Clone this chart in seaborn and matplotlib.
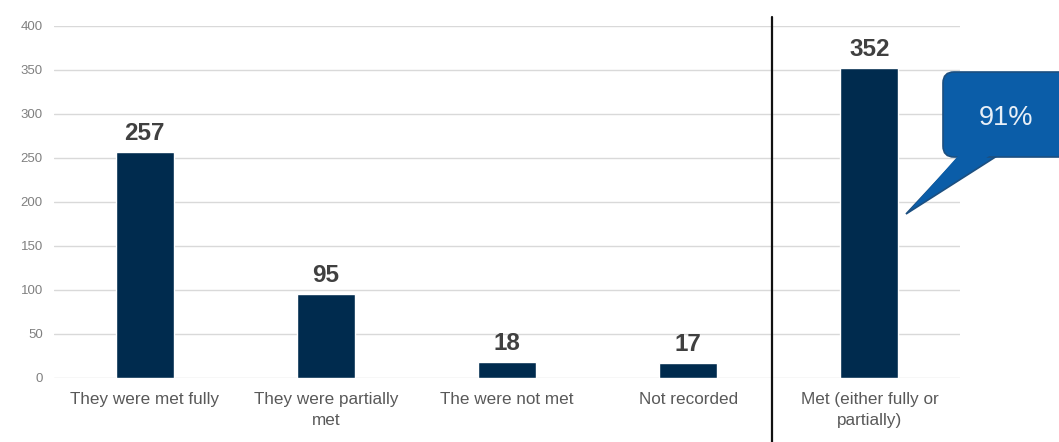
import matplotlib
matplotlib.use("Agg")
import matplotlib.pyplot as plt
from matplotlib.patches import FancyBboxPatch, Polygon
import matplotlib.transforms as mtransforms
import seaborn as sns
import pandas as pd

categories = ["They were met fully", "They were partially\nmet", "The were not met",
              "Not recorded", "Met (either fully or\npartially)"]
counts = [257, 95, 18, 17, 352]
callout_text = "91%"
y_ticks = [0, 50, 100, 150, 200, 250, 300, 350, 400]

df = pd.DataFrame({"category": categories, "count": counts})

sns.set_theme(style="white")
plt.rcParams["font.family"] = ["Liberation Sans", "DejaVu Sans"]

fig = plt.figure(figsize=(10.59, 4.42), dpi=100)
ax = fig.add_axes([54 / 1059, 64 / 442, 906 / 1059, 352 / 442])

bar_color = "#002B4E"
sns.barplot(data=df, x="category", y="count", color=bar_color, width=0.32,
            saturation=1, ax=ax, zorder=3)

ax.set_ylim(0, 400)
ax.set_xlim(-0.5, 4.5)
ax.set_yticks(y_ticks)
ax.set_yticklabels([str(t) for t in y_ticks], fontsize=9.5, color="#808080")
ax.yaxis.grid(True, color="#D9D9D9", linewidth=1.0, zorder=0)
ax.xaxis.grid(False)
ax.tick_params(axis="y", length=0, pad=8)
ax.tick_params(axis="x", length=0, pad=10)
ax.set_xticks(range(len(categories)))
ax.set_xticklabels(categories, fontsize=12.3, color="#595959", linespacing=1.55)
for s in ax.spines.values():
    s.set_visible(False)
ax.set_xlabel("")
ax.set_ylabel("")

# value labels above each bar
for i, v in enumerate(counts):
    ax.text(i, v + 8, str(v), ha="center", va="bottom", fontsize=17.5,
            fontweight="bold", color="#404040")

# divider between the breakdown and the combined total
blend = mtransforms.blended_transform_factory(ax.transData, fig.transFigure)
ax.plot([3.46, 3.46], [0, 425 / 442], color="#111111", linewidth=1.6,
        transform=blend, clip_on=False, zorder=5)

# speech-bubble callout with the share of met needs
tr = fig.dpi_scale_trans
fill = "#0B5DA8"
edge = "#1C4F80"
box = FancyBboxPatch((9.43, 2.85), 1.30, 0.85, boxstyle="round,pad=0,rounding_size=0.11",
                     transform=tr, fc=fill, ec=edge, lw=1.2, zorder=10, clip_on=False)
tail = Polygon([(9.60, 2.86), (9.97, 2.86), (9.06, 2.28)], closed=True,
               transform=tr, fc=fill, ec=edge, lw=1.2, zorder=10, clip_on=False)
cover = Polygon([(9.615, 2.90), (9.95, 2.90), (9.10, 2.32)], closed=True,
                transform=tr, fc=fill, ec="none", zorder=11, clip_on=False)
fig.add_artist(tail)
fig.add_artist(box)
fig.add_artist(cover)
fig.text(10.065, 3.24, callout_text, transform=tr, ha="center", va="center",
         fontsize=19.5, color="#E8EFF7", zorder=12)

fig.savefig("out.png", dpi=100, facecolor="white")
